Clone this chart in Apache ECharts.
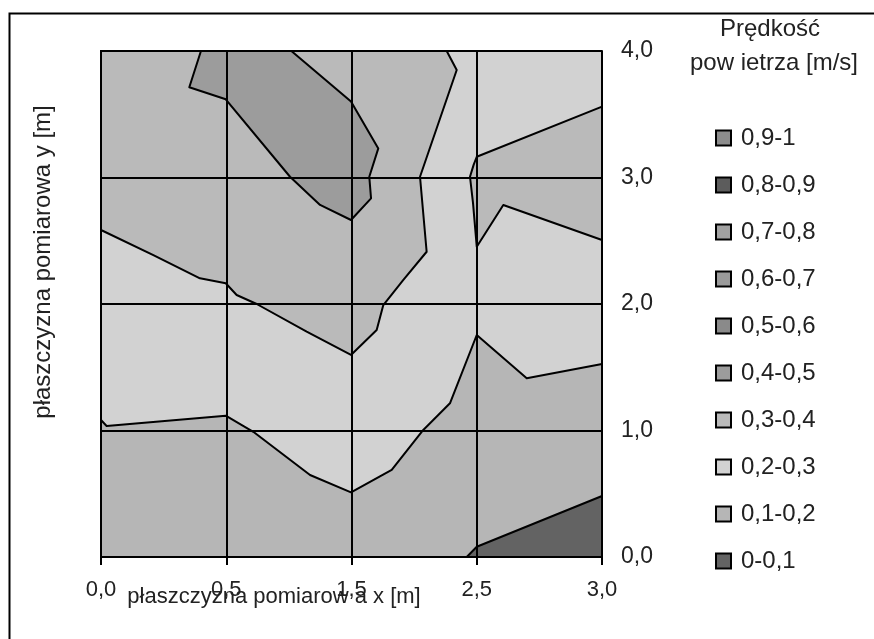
<!DOCTYPE html>
<html><head><meta charset="utf-8">
<script src="https://cdn.jsdelivr.net/npm/echarts@6/dist/echarts.min.js"></script>
<style>html,body{margin:0;padding:0;background:#fff}#c{width:874px;height:639px}</style>
</head><body><div id="c"></div>
<script>
// Tick labels (x positions are equally spaced measurement columns)
const xLabels = ['0,0','0,5','1,5','2,5','3,0'];
const yLabels = ['0,0','1,0','2,0','3,0','4,0'];
// Legend bands (top to bottom)
const bands = ['0,9-1','0,8-0,9','0,7-0,8','0,6-0,7','0,5-0,6','0,4-0,5','0,3-0,4','0,2-0,3','0,1-0,2','0-0,1'];
const bandColors = ['#8c8c8c','#5c5c5c','#a2a2a2','#9a9a9a','#8a8a8a','#9c9c9c','#bababa','#d2d2d2','#b6b6b6','#636363'];
// Contour regions, in (column index, y) data units
const band_02_03 = [[[0,0],[4,0],[4,4],[0,4]]];
const band_01_02 = [[[0,0],[0,1.083],[0.045,1.036],[0.996,1.117],[1.216,0.99],[1.669,0.648],[1.996,0.511],[2.321,0.688],[2.573,1.004],[2.786,1.215],[3.0,1.755],[3.399,1.413],[4,1.526],[4,0]]];
const band_00_01 = [[[2.92,0],[3.0,0.081],[4,0.482],[4,0]]];
const band_03_04 = [
  [[0,4],[2.76,4],[2.84,3.85],[2.547,3.006],[2.6,2.413],[2.414,2.19],[2.254,1.992],[2.201,1.794],[1.996,1.597],[1.642,1.781],[1.243,2.0],[1.083,2.071],[0.996,2.164],[0.79,2.203],[0.418,2.387],[0,2.585]],
  [[4,3.56],[3.0,3.164],[2.975,3.1],[2.946,3.006],[2.97,2.8],[3.0,2.453],[3.212,2.783],[4,2.506]]
];
const band_04_05 = [[[0.798,4],[0.705,3.713],[0.996,3.618],[1.509,3.006],[1.749,2.783],[1.996,2.664],[2.156,2.835],[2.142,3.006],[2.214,3.23],[1.996,3.6],[1.52,4]]];

const regionsByBand = {'0,2-0,3':band_02_03,'0,1-0,2':band_01_02,'0-0,1':band_00_01,'0,3-0,4':band_03_04,'0,4-0,5':band_04_05};
const drawOrder = ['0,2-0,3','0,1-0,2','0-0,1','0,3-0,4','0,4-0,5'];
const FONT = '"Liberation Sans", Arial, sans-serif';

const series = bands.map((name, i) => {
  const polys = regionsByBand[name] || [];
  const ord = drawOrder.indexOf(name);
  return {
    name: name,
    type: 'custom',
    z: 2 + (ord < 0 ? 0 : ord),
    itemStyle: {color: bandColors[i], borderColor: '#000', borderWidth: 1.5},
    data: polys.map((p, k) => [p[0][0], p[0][1], k]),
    renderItem: function (params, api) {
      const poly = polys[params.dataIndex];
      const pts = poly.map(p => api.coord(p));
      return {type: 'polygon', shape: {points: pts},
        style: {fill: bandColors[i], stroke: '#000', lineWidth: 2, lineJoin: 'round'}};
    }
  };
});

const chart = echarts.init(document.getElementById('c'), null, {renderer: 'canvas'});
chart.setOption({
  animation: false,
  backgroundColor: '#fff',
  grid: {left: 101, top: 51, right: 272, bottom: 82},
  xAxis: {
    type: 'value', min: 0, max: 4, interval: 1, z: 20,
    axisLine: {show: true, lineStyle: {color: '#000', width: 2}},
    axisTick: {show: true, length: 8, lineStyle: {color: '#000', width: 2}},
    axisLabel: {margin: 22, color: '#222', fontSize: 22, fontFamily: FONT, formatter: v => xLabels[v]},
    splitLine: {show: true, lineStyle: {color: '#000', width: 2}}
  },
  yAxis: {
    type: 'value', min: 0, max: 4, interval: 1, position: 'right', z: 20,
    axisLine: {show: true, lineStyle: {color: '#000', width: 2}},
    axisTick: {show: true, length: 8, lineStyle: {color: '#000', width: 2}},
    axisLabel: {margin: 19, color: '#222', fontSize: 23, fontFamily: FONT, formatter: v => yLabels[v]},
    splitLine: {show: true, lineStyle: {color: '#000', width: 2}}
  },
  legend: {
    orient: 'vertical', left: 715, top: 126, padding: 0, itemWidth: 15, itemHeight: 15, itemGap: 23,
    icon: 'rect', selectedMode: false,
    itemStyle: {borderColor: '#000', borderWidth: 2},
    textStyle: {fontSize: 24, lineHeight: 24, color: '#222', fontFamily: FONT, padding: [0,0,0,5]},
    data: bands
  },
  graphic: [
    {type: 'rect', left: 7, top: 11, shape: {width: 900, height: 700},
     style: {fill: 'none', stroke: '#000', lineWidth: 2}, silent: true, z: 100},
    {type: 'text', x: 274, y: 597, style: {text: 'płaszczyzna pomiarow a x [m]', font: '22px ' + FONT, fill: '#222', align: 'center', verticalAlign: 'middle'}},
    {type: 'text', x: 43, y: 262, rotation: Math.PI / 2, style: {text: 'płaszczyzna pomiarowa y [m]', font: '24px ' + FONT, fill: '#222', align: 'center', verticalAlign: 'middle'}},
    {type: 'text', x: 770, y: 29, style: {text: 'Prędkość', font: '24px ' + FONT, fill: '#222', align: 'center', verticalAlign: 'middle'}},
    {type: 'text', x: 774, y: 63, style: {text: 'pow ietrza [m/s]', font: '24px ' + FONT, fill: '#222', align: 'center', verticalAlign: 'middle'}}
  ],
  series: series
});
</script></body></html>
